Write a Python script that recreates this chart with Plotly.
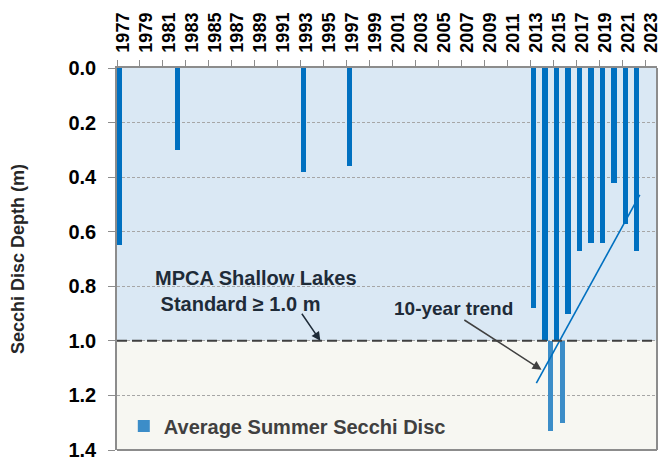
import plotly.graph_objects as go

# ---- data ----
years = [1977, 1982, 1993, 1997, 2013, 2014, 2015, 2016, 2017, 2018, 2019, 2020, 2021, 2022]
secchi = [0.65, 0.30, 0.38, 0.36, 0.88, 1.33, 1.30, 0.90, 0.67, 0.64, 0.64, 0.42, 0.57, 0.67]
trend_years = [2013, 2022]
trend_values = [1.155, 0.465]
tick_years = list(range(1977, 2024, 2))
standard_depth = 1.0
y_ticks = [0.0, 0.2, 0.4, 0.6, 0.8, 1.0, 1.2, 1.4]

FONT = "Liberation Sans, Arial, sans-serif"
BAR_DARK = "#0070C0"
BAR_LIGHT = "#3C8DC8"

upper = [min(v, standard_depth) for v in secchi]
lower_x = [x for x, v in zip(years, secchi) if v > standard_depth]
lower_len = [v - standard_depth for v in secchi if v > standard_depth]

fig = go.Figure()
fig.add_trace(go.Bar(x=years, y=upper, base=0, width=0.45, marker=dict(color=BAR_DARK, line_width=0),
                     showlegend=False, name="upper"))
fig.add_trace(go.Bar(x=lower_x, y=lower_len, base=standard_depth, width=0.45,
                     marker=dict(color=BAR_LIGHT, line_width=0),
                     name="Average Summer Secchi Disc", showlegend=True))
fig.add_trace(go.Scatter(x=trend_years, y=trend_values, mode="lines",
                         line=dict(color=BAR_DARK, width=1.6), showlegend=False))

# background bands
fig.add_shape(type="rect", xref="paper", yref="y", x0=0, x1=1, y0=0, y1=standard_depth,
              fillcolor="#DAE8F4", line_width=0, layer="below")
fig.add_shape(type="rect", xref="paper", yref="y", x0=0, x1=1, y0=standard_depth, y1=1.4,
              fillcolor="#F7F7F2", line_width=0, layer="below")
# standard line
fig.add_shape(type="line", xref="paper", yref="y", x0=0, x1=1, y0=standard_depth, y1=standard_depth,
              line=dict(color="#404040", width=2, dash="10px,5px"), layer="above")
# plot border (right and bottom)
fig.add_shape(type="line", xref="paper", yref="paper", x0=1, x1=1, y0=0, y1=1,
              line=dict(color="#8C8C8C", width=2), layer="above")
fig.add_shape(type="line", xref="paper", yref="paper", x0=0, x1=1, y0=0, y1=0,
              line=dict(color="#8C8C8C", width=2), layer="above")

fig.add_annotation(x=0.067, y=0.349, xref="paper", yref="paper", xanchor="left", yanchor="bottom",
                   text="MPCA Shallow Lakes<br> Standard ≥ 1.0 m", align="left", showarrow=False,
                   font=dict(family=FONT, size=20, color="#1E2B38", weight="bold"))
fig.add_annotation(x=1994.2, y=standard_depth, ax=1992.5, ay=0.895, xref="x", yref="y",
                   axref="x", ayref="y", text="", showarrow=True, arrowhead=2, arrowsize=1.2,
                   arrowwidth=1.5, arrowcolor="#1E2B38")
fig.add_annotation(x=2005.8, y=0.883, xref="x", yref="y", text="10-year trend", showarrow=False,
                   font=dict(family=FONT, size=19, color="#1E2B38", weight="bold"))
fig.add_annotation(x=2013.45, y=1.106, ax=2006.6, ay=0.92, xref="x", yref="y",
                   axref="x", ayref="y", text="", showarrow=True, arrowhead=2, arrowsize=1.2,
                   arrowwidth=1.5, arrowcolor="#404040")

fig.update_layout(
    width=662, height=450,
    margin=dict(l=109, r=13, t=60, b=8),
    paper_bgcolor="white", plot_bgcolor="#F7F7F2",
    font=dict(family=FONT, color="#000000"),
    bargap=0,
    legend=dict(x=0.0126, y=0.012, xanchor="left", yanchor="bottom", bgcolor="rgba(0,0,0,0)",
                font=dict(family=FONT, size=20, color="#404040", weight="bold")),
    xaxis=dict(side="top", range=[1976.5, 2023.5], tickmode="array", tickvals=tick_years,
               ticktext=[str(y) for y in tick_years], tickangle=-90, automargin=False,
               tickfont=dict(family=FONT, size=18, color="#000000", weight="bold"), ticks="",
               ticklabelstandoff=10,
               showgrid=False, zeroline=False, showline=True, linecolor="#8C8C8C", linewidth=1.5,
               minor=dict(tickmode="linear", tick0=1976.5, dtick=2, ticks="outside", ticklen=6,
                          tickcolor="#8C8C8C", showgrid=False)),
    yaxis=dict(range=[1.4, 0], tickmode="array", tickvals=y_ticks, tickformat=".1f", automargin=False,
               tickfont=dict(family=FONT, size=20, color="#000000", weight="bold"),
               ticks="outside", ticklen=7, tickcolor="#8C8C8C", ticklabelstandoff=8,
               ticklabeloverflow="allow",
               showline=True, linecolor="#8C8C8C", linewidth=1.5, zeroline=False,
               showgrid=True, gridcolor="#A6A6A6", gridwidth=1, griddash="3px,2px",
               title=dict(text="Secchi Disc Depth (m)",
                          font=dict(family=FONT, size=18, color="#262626", weight="bold"),
                          standoff=46)),
)

fig.write_html("out.html")
